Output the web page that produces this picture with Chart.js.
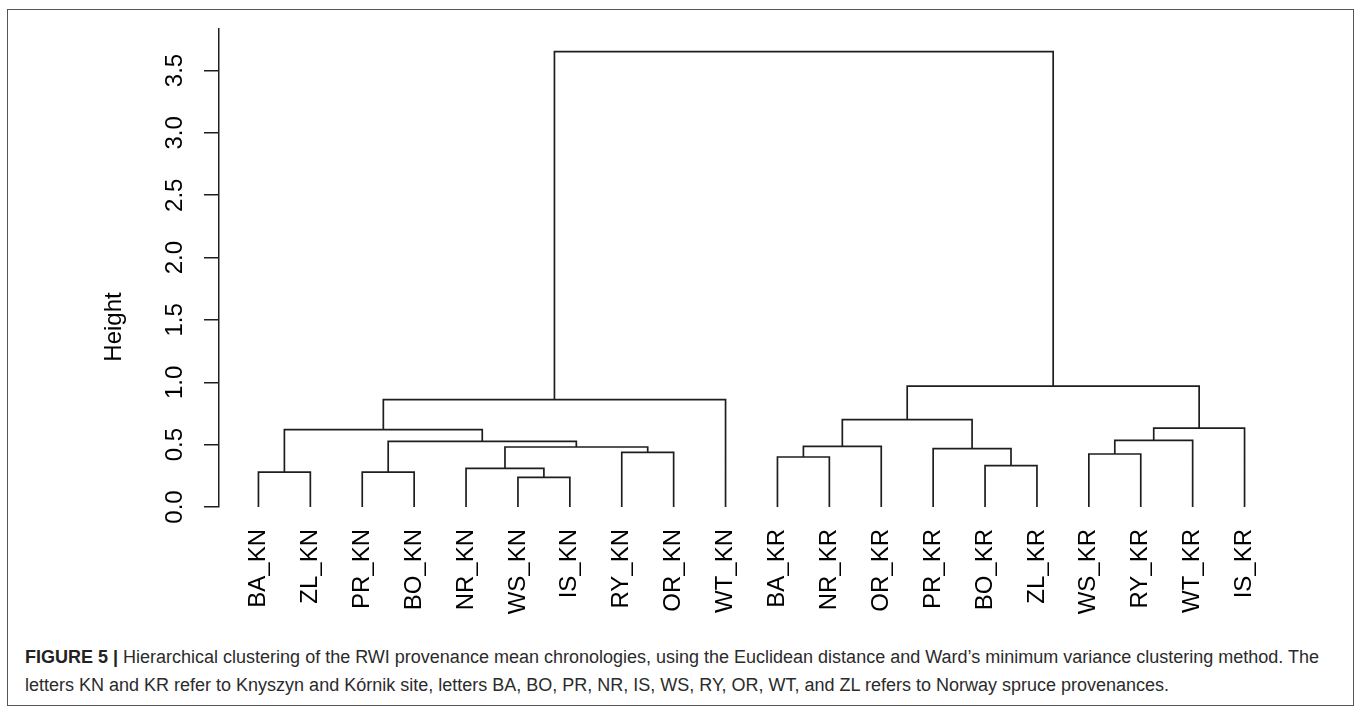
<!DOCTYPE html>
<html>
<head>
<meta charset="utf-8">
<title>Figure 5 - Hierarchical clustering</title>
<script src="https://cdn.jsdelivr.net/npm/chart.js@4.4.1/dist/chart.umd.min.js"></script>
<style>
  html, body { margin: 0; padding: 0; background: #fff; }
  body { width: 1358px; height: 708px; position: relative; overflow: hidden; }
  #frame {
    position: absolute; left: 7px; top: 9px; width: 1347px; height: 697px;
    border: 1.5px solid #555; box-sizing: border-box;
  }
  #chartBox { position: absolute; left: 0; top: 0; width: 1358px; height: 640px; }
  #caption {
    position: absolute; left: 25px; top: 643px; white-space: nowrap;
    font-family: "Liberation Sans", Arial, sans-serif; font-size: 18px; line-height: 28px;
    color: #2b2b2b;
  }
  #caption b { color: #222; }
</style>
</head>
<body>
<div id="frame"></div>
<div id="chartBox"><canvas id="dendro"></canvas></div>
<div id="caption">
  <b>FIGURE 5 |</b> Hierarchical clustering of the RWI provenance mean chronologies, using the Euclidean distance and Ward’s minimum variance clustering method. The<br>
  letters KN and KR refer to Knyszyn and Kórnik site, letters BA, BO, PR, NR, IS, WS, RY, OR, WT, and ZL refers to Norway spruce provenances.
</div>

<script>
'use strict';

// leaves in plotting order
const leafLabels = ['BA_KN', 'ZL_KN', 'PR_KN', 'BO_KN', 'NR_KN', 'WS_KN', 'IS_KN', 'RY_KN', 'OR_KN', 'WT_KN',
                    'BA_KR', 'NR_KR', 'OR_KR', 'PR_KR', 'BO_KR', 'ZL_KR', 'WS_KR', 'RY_KR', 'WT_KR', 'IS_KR'];

// hclust style merges: negative = leaf (1-based), positive = earlier merge step
const mergePairs = [
    [-6, -7], [-1, -2], [-3, -4], [-5, 1], [-15, -16],
    [-11, -12], [-17, -18], [-8, -9], [-14, 5], [4, 8],
    [6, -13], [3, 10], [7, -19], [2, 12], [13, -20],
    [11, 9], [14, -10], [16, 15], [17, 18]
];
const mergeHeights = [0.238, 0.280, 0.280, 0.310, 0.332,
                      0.401, 0.425, 0.438, 0.468, 0.481,
                      0.486, 0.526, 0.534, 0.620, 0.633,
                      0.700, 0.861, 0.970, 3.651];

const yTickValues = [0, 0.5, 1, 1.5, 2, 2.5, 3, 3.5];
const yAxisTitle = 'Height';

const FONT = '"Liberation Sans", Arial, Helvetica, sans-serif';
const INK = '#1e1e1e';

// node position: leaves sit at their index, merges at the midpoint of their children
const mergeX = [];
function nodeX(ref) { return ref < 0 ? -ref : mergeX[ref - 1]; }
function nodeH(ref) { return ref < 0 ? 0 : mergeHeights[ref - 1]; }

const segments = [];
mergePairs.forEach(([a, b], i) => {
    const xa = nodeX(a), xb = nodeX(b), h = mergeHeights[i];
    mergeX.push((xa + xb) / 2);
    segments.push({ x: xa, y: nodeH(a) }, { x: xa, y: h }, { x: xb, y: h }, { x: xb, y: nodeH(b) });
    segments.push({ x: xb, y: null }); // gap between links
});

// y axis title, drawn rotated beside the tick labels
const axisTitlePlugin = {
    id: 'axisTitle',
    afterDraw(chart) {
        const ctx = chart.ctx;
        ctx.save();
        ctx.translate(114, 327);
        ctx.rotate(-Math.PI / 2);
        ctx.font = `24px ${FONT}`;
        ctx.fillStyle = '#000';
        ctx.textAlign = 'center';
        ctx.textBaseline = 'middle';
        ctx.fillText(yAxisTitle, 0, 0);
        ctx.restore();
    }
};

new Chart(document.getElementById('dendro'), {
    type: 'scatter',
    data: {
        datasets: [{
            label: 'Ward',
            data: segments,
            showLine: true,
            spanGaps: false,
            borderColor: INK,
            borderWidth: 1.7,
            pointRadius: 0,
            pointHoverRadius: 0,
            tension: 0
        }]
    },
    options: {
        responsive: true,
        maintainAspectRatio: false,
        animation: false,
        events: [],
        layout: { padding: { left: 0, right: 74, top: 29, bottom: 0 } },
        plugins: { legend: { display: false }, tooltip: { enabled: false } },
        scales: {
            x: {
                type: 'linear',
                min: 0.24,
                max: leafLabels.length + 0.76,
                afterBuildTicks: s => { s.ticks = leafLabels.map((_, i) => ({ value: i + 1 })); },
                afterFit: s => { s.height = 133; },
                grid: { display: false, drawTicks: false },
                border: { display: false },
                ticks: {
                    autoSkip: false,
                    minRotation: 90,
                    maxRotation: 90,
                    padding: 22,
                    color: '#000',
                    font: { family: FONT, size: 24 },
                    callback: v => leafLabels[v - 1]
                }
            },
            y: {
                type: 'linear',
                min: 0,
                max: 3.833,
                afterBuildTicks: s => { s.ticks = yTickValues.map(v => ({ value: v })); },
                afterFit: s => { s.width = 219; },
                grid: { drawOnChartArea: false, drawTicks: true, tickLength: 15, color: INK, lineWidth: 1.5 },
                border: { display: true, color: INK, width: 1.5 },
                ticks: {
                    minRotation: 90,
                    maxRotation: 90,
                    crossAlign: 'center',
                    padding: 12,
                    color: '#000',
                    font: { family: FONT, size: 24 },
                    callback: v => v.toFixed(1)
                }
            }
        }
    },
    plugins: [axisTitlePlugin]
});
</script>
</body>
</html>
